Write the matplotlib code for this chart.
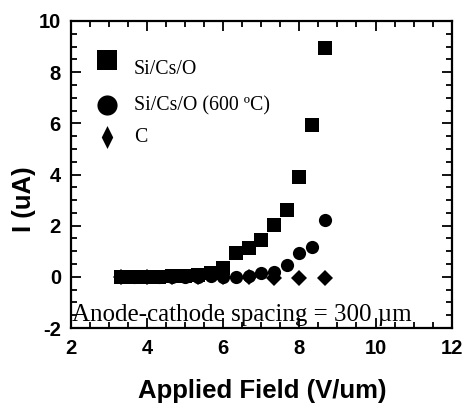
import numpy as np
import matplotlib
matplotlib.use("Agg")
import matplotlib.pyplot as plt
from matplotlib.path import Path

plt.rcParams['axes.unicode_minus'] = False

# ---- data (Applied field in V/um, current in uA) ----
sq_x = [3.33, 3.67, 4.00, 4.33, 4.67, 5.00, 5.33, 5.67, 6.00, 6.33, 6.67, 7.00, 7.33, 7.67, 8.00, 8.33, 8.67]
sq_y = [0.00, 0.00, 0.00, 0.00, 0.02, 0.05, 0.08, 0.15, 0.33, 0.92, 1.11, 1.44, 2.02, 2.61, 3.91, 5.93, 8.93]

ci_x = [3.33, 3.67, 4.00, 4.33, 4.67, 5.00, 5.33, 5.67, 6.00, 6.33, 6.67, 7.00, 7.33, 7.67, 8.00, 8.33, 8.67]
ci_y = [0.00, 0.00, 0.00, 0.00, 0.00, 0.00, 0.00, 0.02, 0.00, 0.00, 0.04, 0.16, 0.20, 0.45, 0.92, 1.18, 2.22]

di_x = [3.33, 4.00, 4.67, 5.33, 6.00, 6.67, 7.33, 8.00, 8.67]
di_y = [0.00, 0.00, 0.00, 0.00, 0.00, -0.02, -0.05, -0.05, -0.05]

labels = ["Si/Cs/O", "Si/Cs/O (600 \u00baC)", "C"]
xticks = [2, 4, 6, 8, 10, 12]
yticks = [-2, 0, 2, 4, 6, 8, 10]

fig = plt.figure(figsize=(4.65, 4.08), dpi=100)
W, H = 465, 408
L, R, T, B = 70.7, 451.7, 21, 328
ax = fig.add_axes([L / W, 1 - B / H, (R - L) / W, (B - T) / H])

tall_d = Path([(0, 1), (0.5, 0), (0, -1), (-0.5, 0), (0, 1)],
              [Path.MOVETO, Path.LINETO, Path.LINETO, Path.LINETO, Path.CLOSEPOLY])

ax.plot(di_x, di_y, 'D', color='black', ms=8.5, mew=0)
ax.plot(ci_x, ci_y, 'o', color='black', ms=9.5, mew=0)
ax.plot(sq_x, sq_y, 's', color='black', ms=10, mew=0)

# manual legend
ax.plot([2.95], [8.48], 's', color='black', ms=14.5, mew=0)
ax.plot([2.95], [6.71], 'o', color='black', ms=14.5, mew=0)
ax.plot([2.95], [5.46], marker=tall_d, color='black', ms=16.5, mew=0, ls='none')
serif = ['Liberation Serif', 'DejaVu Serif']
ax.text(3.66, 7.92, labels[0], family=serif, fontsize=14.3, va='baseline', ha='left')
ax.text(3.66, 6.52, labels[1], family=serif, fontsize=14.3, va='baseline', ha='left')
ax.text(3.66, 5.28, labels[2], family=serif, fontsize=14.3, va='baseline', ha='left')

ax.text(2.04, -1.74, "Anode-cathode spacing = 300 \u00b5m", family=serif,
        fontsize=18, va='baseline', ha='left')

ax.set_xlim(2, 12)
ax.set_ylim(-2, 10)
ax.set_xticks(xticks)
ax.set_yticks(yticks)
ax.set_xticks(np.arange(2, 12.01, 0.5), minor=True)
ax.set_yticks(np.arange(-2, 10.01, 0.5), minor=True)
ax.tick_params(which='both', direction='in', top=True, right=True, width=1.3)
ax.tick_params(which='major', length=7)
ax.tick_params(which='minor', length=4.5)
ax.tick_params(axis='x', which='major', pad=8)
ax.tick_params(axis='y', which='major', pad=7)
for lab in ax.get_xticklabels() + ax.get_yticklabels():
    lab.set_family(['Liberation Sans', 'DejaVu Sans'])
    lab.set_fontweight('bold')
    lab.set_fontsize(14.5)
for s in ax.spines.values():
    s.set_linewidth(1.6)

fig.text(262.5 / W, 1 - 398 / H, "Applied Field (V/um)", family=['Liberation Sans', 'DejaVu Sans'],
         fontweight='bold', fontsize=18.5, ha='center', va='baseline')
fig.text(24 / W, 1 - 199 / H, "I (uA)", family=['Liberation Sans', 'DejaVu Sans'],
         fontweight='bold', fontsize=18.5, ha='center', va='center', rotation=90)

fig.savefig("out.png", dpi=100)
